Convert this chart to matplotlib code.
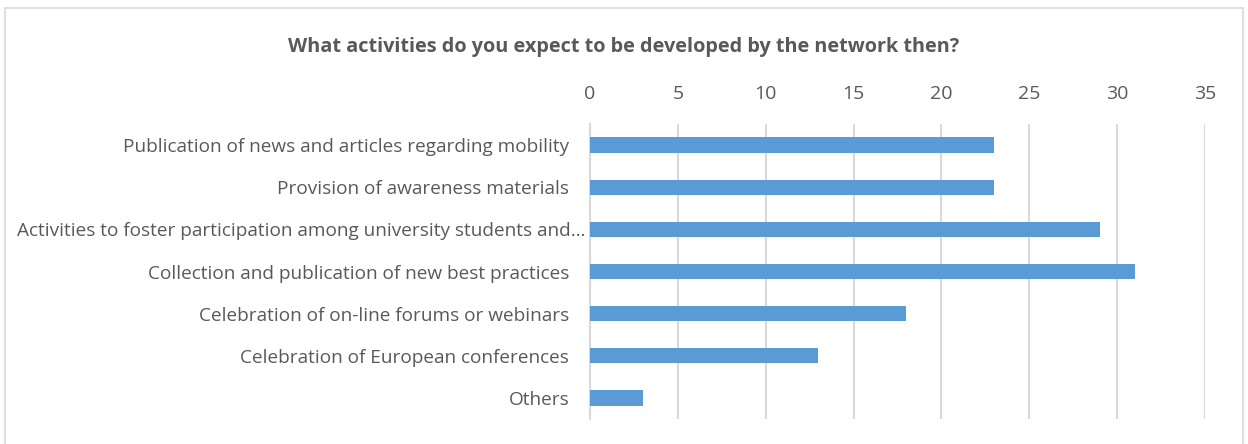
import matplotlib
matplotlib.use("Agg")
import matplotlib.pyplot as plt
from matplotlib.patches import Rectangle
from matplotlib.transforms import ScaledTranslation

categories = [
    "Publication of news and articles regarding mobility",
    "Provision of awareness materials",
    "Activities to foster participation among university students and\u2026",
    "Collection and publication of new best practices",
    "Celebration of on-line forums or webinars",
    "Celebration of European conferences",
    "Others",
]
values = [23, 23, 29, 31, 18, 13, 3]
x_ticks = [0, 5, 10, 15, 20, 25, 30, 35]
title = "What activities do you expect to be developed by the network then?"

plt.rcParams["font.family"] = ["Open Sans", "DejaVu Sans"]
text_color = "#595959"

fig = plt.figure(figsize=(12.48, 4.44), dpi=100)
fig.patch.set_facecolor("white")
# chart frame
fig.add_artist(Rectangle((5 / 1248, -0.05), 1238 / 1248, 1.05 - 8 / 444,
                         transform=fig.transFigure, fill=False,
                         edgecolor="#d9d9d9", linewidth=1.2))

ax = fig.add_axes([590 / 1248, 1 - 419 / 444, 615 / 1248, 295 / 444])
positions = list(range(len(categories)))
ax.barh(positions, values, height=0.36, color="#5b9bd5", zorder=3)

ax.set_xlim(0, 35)
ax.set_ylim(len(categories) - 0.5, -0.5)
ax.set_xticks(x_ticks)
ax.xaxis.tick_top()
ax.set_yticks(positions)
ax.set_yticklabels(categories)
ax.tick_params(axis="x", length=0, pad=15, labelsize=14, labelcolor=text_color)
ax.tick_params(axis="y", length=0, pad=15, labelsize=13.7, labelcolor=text_color)
ax.grid(axis="x", color="#d9d9d9", linewidth=1.5, zorder=0)
for side in ("top", "right", "bottom"):
    ax.spines[side].set_visible(False)
ax.spines["left"].set_color("#d9d9d9")
ax.spines["left"].set_linewidth(1.5)

# the truncated label runs closer to the axis
for lab in ax.get_yticklabels():
    if lab.get_text().endswith("\u2026"):
        lab.set_transform(lab.get_transform()
                          + ScaledTranslation(0.16, 0, fig.dpi_scale_trans))

fig.text(624 / 1248, 1 - 47 / 444, title, ha="center", va="center",
         fontsize=14.3, fontweight="bold", color=text_color)

fig.savefig("out.png", dpi=100)
